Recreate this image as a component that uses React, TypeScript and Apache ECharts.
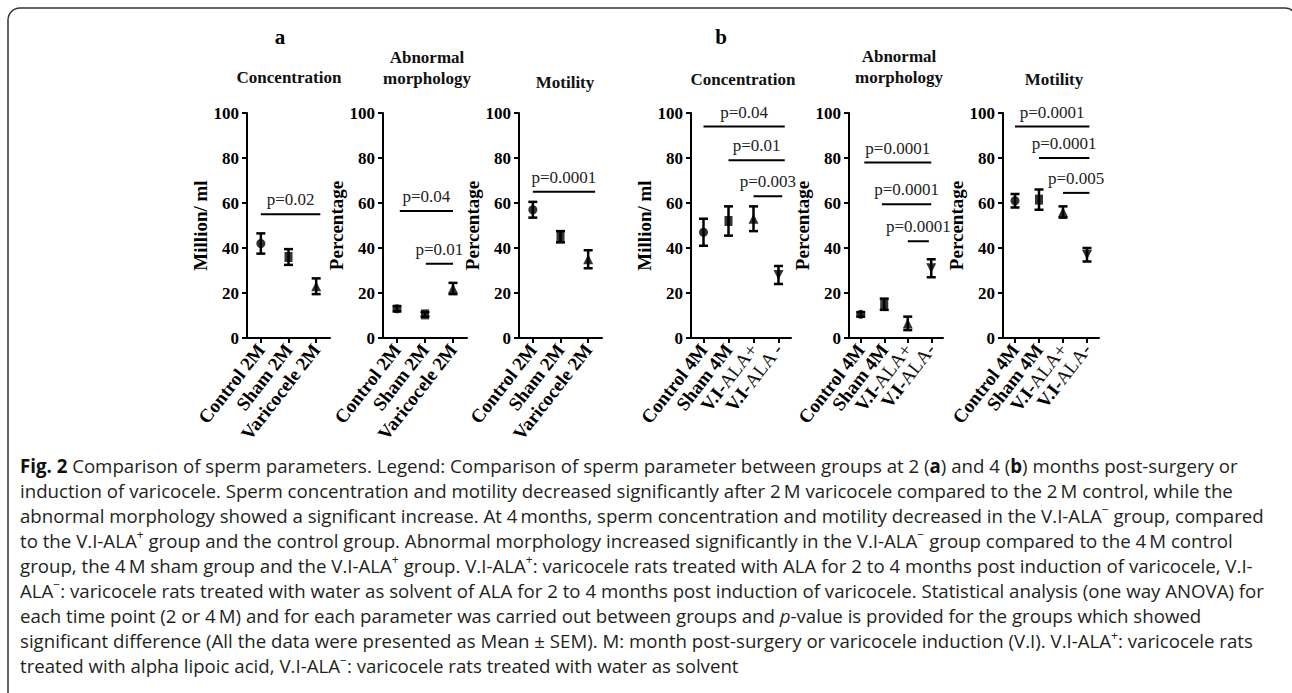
import React, { useEffect, useRef } from 'react';
import * as echarts from 'echarts';

// ---------- data ----------
const groups2M = ['Control 2M', 'Sham 2M', 'Varicocele 2M'];
const groups4MConc = ['Control 4M', 'Sham 4M', 'V.I-ALA+', 'V.I-ALA -'];
const groups4M = ['Control 4M', 'Sham 4M', 'V.I-ALA+', 'V.I-ALA-'];
const yTicks = [0, 20, 40, 60, 80, 100];

const concMean2M = [42, 36, 23];
const concSem2M = [4.5, 3.5, 3.5];
const morphMean2M = [13, 10.5, 22];
const morphSem2M = [1.2, 1.0, 2.5];
const motMean2M = [57, 45, 35];
const motSem2M = [3.5, 2.5, 4];

const concMean4M = [47, 52, 53, 28];
const concSem4M = [6, 6.5, 5.5, 4];
const morphMean4M = [10.5, 15, 6.5, 31];
const morphSem4M = [1, 2.5, 3, 4];
const motMean4M = [61, 61.5, 56, 37];
const motSem4M = [3, 4.5, 2.5, 3];

// significance bars: from / to in category units, y in axis units
const concSig2M = [{ from: 0, to: 2.15, y: 55, p: 'p=0.02' }];
const morphSig2M = [
  { from: 0.1, to: 2.0, y: 56.5, p: 'p=0.04' },
  { from: 1.03, to: 2.0, y: 33, p: 'p=0.01' },
];
const motSig2M = [{ from: 0, to: 2.25, y: 65, p: 'p=0.0001' }];
const concSig4M = [
  { from: 0, to: 3.25, y: 94, p: 'p=0.04' },
  { from: 1, to: 3.25, y: 79, p: 'p=0.01' },
  { from: 2, to: 3.15, y: 63, p: 'p=0.003' },
];
const morphSig4M = [
  { from: 0.15, to: 3.0, y: 78, p: 'p=0.0001' },
  { from: 0.9, to: 3.0, y: 59.5, p: 'p=0.0001' },
  { from: 2, to: 2.9, y: 43, p: 'p=0.0001' },
];
const motSig4M = [
  { from: 0, to: 3.1, y: 94, p: 'p=0.0001' },
  { from: 1, to: 3.1, y: 80, p: 'p=0.0001' },
  { from: 2, to: 3.1, y: 64.5, p: 'p=0.005' },
];

const captionLines = [
  '{b|Fig. 2} Comparison of sperm parameters. Legend: Comparison of sperm parameter between groups at 2 ({b|a}) and 4 ({b|b}) months post-surgery or',
  'induction of varicocele. Sperm concentration and motility decreased significantly after 2\u2009M varicocele compared to the 2\u2009M control, while the',
  'abnormal morphology showed a significant increase. At 4\u2009months, sperm concentration and motility decreased in the V.I-ALA{s|\u2212} group, compared',
  'to the V.I-ALA{s|+} group and the control group. Abnormal morphology increased significantly in the V.I-ALA{s|\u2212} group compared to the 4\u2009M control',
  'group, the 4\u2009M sham group and the V.I-ALA{s|+} group. V.I-ALA{s|+}: varicocele rats treated with ALA for 2 to 4 months post induction of varicocele, V.I-',
  'ALA{s|\u2212}: varicocele rats treated with water as solvent of ALA for 2 to 4 months post induction of varicocele. Statistical analysis (one way ANOVA) for',
  'each time point (2 or 4\u2009M) and for each parameter was carried out between groups and {i|p}-value is provided for the groups which showed',
  'significant difference (All the data were presented as Mean \u00b1 SEM). M: month post-surgery or varicocele induction (V.I). V.I-ALA{s|+}: varicocele rats',
  'treated with alpha lipoic acid, V.I-ALA{s|\u2212}: varicocele rats treated with water as solvent',
];

// ---------- layout / style ----------
const SERIF = '"Liberation Serif", "Times New Roman", serif';
const SANS_NAME = 'Open Sans';
const SANS = '"Open Sans", Lato, sans-serif';
const symbols = ['circle', 'rect', 'triangle', 'triangle'];
const symbolRot = [0, 0, 0, 180];
const symbolSizes: any[] = [9, [8, 10], 10, 10];

const panels = [
  { left: 247, width: 83, cats: groups2M, mean: concMean2M, sem: concSem2M, sig: concSig2M, yName: 'Million/ ml', nameGap: 29, title: 'Concentration', tx: 289, ty: 77 },
  { left: 383, width: 84, cats: groups2M, mean: morphMean2M, sem: morphSem2M, sig: morphSig2M, yName: 'Percentage', nameGap: 27, title: 'Abnormal\nmorphology', tx: 427, ty: 68 },
  { left: 519, width: 83, cats: groups2M, mean: motMean2M, sem: motSem2M, sig: motSig2M, yName: 'Percentage', nameGap: 27, title: 'Motility', tx: 565, ty: 82 },
  { left: 691, width: 100, cats: groups4MConc, mean: concMean4M, sem: concSem4M, sig: concSig4M, yName: 'Million/ ml', nameGap: 20, title: 'Concentration', tx: 743, ty: 79 },
  { left: 849, width: 94, cats: groups4M, mean: morphMean4M, sem: morphSem4M, sig: morphSig4M, yName: 'Percentage', nameGap: 26, title: 'Abnormal\nmorphology', tx: 899, ty: 67 },
  { left: 1003, width: 96, cats: groups4M, mean: motMean4M, sem: motSem4M, sig: motSig4M, yName: 'Percentage', nameGap: 25, title: 'Motility', tx: 1054, ty: 79 },
];

function captionFontSize(): number {
  try {
    const c = document.createElement('canvas');
    const ctx = c.getContext('2d');
    if (!ctx) return 17;
    ctx.font = '100px "' + SANS_NAME + '"';
    const plain = captionLines[5].replace(/\{\w\|([^}]*)\}/g, '$1');
    const w = ctx.measureText(plain).width;
    const fs = (100 * 1249) / w;
    return Math.max(14, Math.min(20, fs));
  } catch (e) {
    return 17;
  }
}

export default function App() {
  const ref = useRef<HTMLDivElement>(null);

  useEffect(() => {
    document.body.style.margin = '0';
    if (!ref.current) return;
    const chart = echarts.init(ref.current, undefined, { renderer: 'svg' });
    const fs = captionFontSize();

    const series: any[] = [];
    panels.forEach((p, i) => {
      series.push({
        type: 'custom',
        xAxisIndex: i,
        yAxisIndex: i,
        z: 3,
        data: p.mean.map((m, j) => [j, m, p.sem[j]]),
        encode: { x: 0, y: 1 },
        renderItem: (params: any, api: any) => {
          const x = api.value(0);
          const m = api.value(1);
          const s = api.value(2);
          const top = api.coord([x, m + s]);
          const bot = api.coord([x, m - s]);
          const hw = 4.5;
          const st = { stroke: '#000', lineWidth: 2.5 };
          return {
            type: 'group',
            children: [
              { type: 'line', shape: { x1: top[0], y1: top[1], x2: bot[0], y2: bot[1] }, style: st },
              { type: 'line', shape: { x1: top[0] - hw, y1: top[1], x2: top[0] + hw, y2: top[1] }, style: st },
              { type: 'line', shape: { x1: bot[0] - hw, y1: bot[1], x2: bot[0] + hw, y2: bot[1] }, style: st },
            ],
          };
        },
      });
      series.push({
        type: 'scatter',
        xAxisIndex: i,
        yAxisIndex: i,
        z: 4,
        itemStyle: { color: '#000' },
        data: p.mean.map((m, j) => ({
          value: [j, m],
          symbol: symbols[j],
          symbolRotate: symbolRot[j],
          symbolSize: symbolSizes[j],
        })),
      });
      series.push({
        type: 'custom',
        xAxisIndex: i,
        yAxisIndex: i,
        z: 5,
        data: p.sig.map((s) => [0, s.y]),
        encode: { x: 0, y: 1 },
        renderItem: (params: any, api: any) => {
          const s = p.sig[params.dataIndex];
          const base = api.coord([0, s.y]);
          const bw = api.size([1, 0])[0];
          const x1 = base[0] + s.from * bw;
          const x2 = base[0] + s.to * bw;
          return {
            type: 'group',
            children: [
              { type: 'line', shape: { x1, y1: base[1], x2, y2: base[1] }, style: { stroke: '#000', lineWidth: 2 } },
              {
                type: 'text',
                x: (x1 + x2) / 2,
                y: base[1] - 6,
                style: {
                  text: s.p,
                  align: 'center',
                  verticalAlign: 'bottom',
                  fontFamily: SERIF,
                  fontSize: 17,
                  fill: '#222',
                },
              },
            ],
          };
        },
      });
    });

    const graphic: any[] = [
      {
        type: 'rect',
        shape: { x: 8, y: 8, width: 1289, height: 720, r: 12 },
        style: { fill: 'none', stroke: '#333', lineWidth: 1.5 },
        z: 1,
      },
      { type: 'text', x: 280, y: 37, style: { text: 'a', align: 'center', verticalAlign: 'middle', fontFamily: SERIF, fontWeight: 'bold', fontSize: 21, fill: '#000' } },
      { type: 'text', x: 721, y: 37, style: { text: 'b', align: 'center', verticalAlign: 'middle', fontFamily: SERIF, fontWeight: 'bold', fontSize: 21, fill: '#000' } },
    ];
    panels.forEach((p) => {
      graphic.push({
        type: 'text',
        x: p.tx,
        y: p.ty,
        style: {
          text: p.title,
          align: 'center',
          verticalAlign: 'middle',
          fontFamily: SERIF,
          fontWeight: 'bold',
          fontSize: 17,
          lineHeight: 21,
          fill: '#111',
        },
      });
    });
    const lh = 25.1;
    captionLines.forEach((line, k) => {
      graphic.push({
        type: 'text',
        x: 20,
        y: 465 + k * lh,
        style: {
          text: line,
          align: 'left',
          verticalAlign: 'middle',
          fontFamily: SANS,
          fontSize: fs,
          lineHeight: fs * 1.25,
          fill: '#231f20',
          rich: {
            b: { fontFamily: SANS, fontSize: fs, fontWeight: 'bold', fill: '#111', lineHeight: fs * 1.25 },
            i: { fontFamily: SANS, fontSize: fs, fontStyle: 'italic', fill: '#231f20', lineHeight: fs * 1.25 },
            s: { fontFamily: SANS, fontSize: fs * 0.65, fill: '#231f20', verticalAlign: 'top', lineHeight: fs * 1.25 },
          },
        },
      });
    });

    const option: any = {
      animation: false,
      backgroundColor: '#fff',
      textStyle: { fontFamily: SERIF },
      grid: panels.map((p) => ({ left: p.left, top: 113, width: p.width, height: 225 })),
      xAxis: panels.map((p, i) => ({
        type: 'category',
        gridIndex: i,
        data: p.cats,
        boundaryGap: true,
        axisLine: { show: true, lineStyle: { color: '#000', width: 2 } },
        axisTick: { show: true, alignWithLabel: true, length: 5, lineStyle: { color: '#000', width: 2 } },
        axisLabel: {
          interval: 0,
          rotate: 52,
          margin: 8,
          color: '#000',
          fontFamily: SERIF,
          fontWeight: 'bold',
          fontSize: 19,
          formatter: (v: string) => (v.indexOf('V.I-') === 0 ? '{b|V.I-}{n|' + v.slice(4) + '}' : v),
          rich: {
            b: { fontFamily: SERIF, fontWeight: 'bold', fontSize: 19, color: '#000' },
            n: { fontFamily: SERIF, fontWeight: 'normal', fontSize: 19, color: '#111' },
          },
        },
        splitLine: { show: false },
      })),
      yAxis: panels.map((p, i) => ({
        type: 'value',
        gridIndex: i,
        min: yTicks[0],
        max: yTicks[yTicks.length - 1],
        interval: yTicks[1] - yTicks[0],
        name: p.yName,
        nameLocation: 'middle',
        nameRotate: 90,
        nameGap: p.nameGap,
        nameTextStyle: { fontFamily: SERIF, fontWeight: 'bold', fontSize: 19, color: '#000' },
        axisLine: { show: true, lineStyle: { color: '#000', width: 2 } },
        axisTick: { show: true, length: 5, lineStyle: { color: '#000', width: 2 } },
        axisLabel: { color: '#000', fontFamily: SERIF, fontWeight: 'bold', fontSize: 17, margin: 8 },
        splitLine: { show: false },
      })),
      series,
      graphic,
    };
    chart.setOption(option);
    return () => chart.dispose();
  }, []);

  return <div ref={ref} style={{ position: 'absolute', left: 0, top: 0, width: 1292, height: 693 }} />;
}
